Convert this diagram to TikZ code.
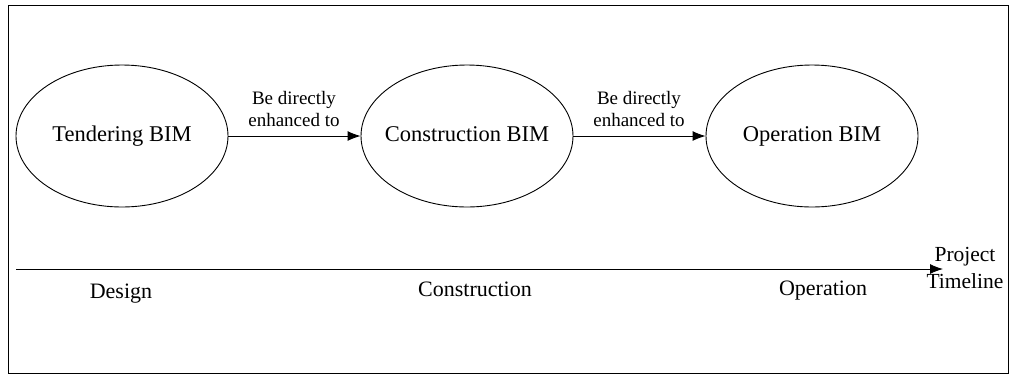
\documentclass[tikz,border=0pt]{standalone}
\usepackage{fontspec}
\setmainfont{Liberation Serif}
\usetikzlibrary{shapes.geometric,arrows.meta}

\tikzset{
	bim/.style={ellipse, draw, line width=0.9pt, minimum width=212pt,
	            minimum height=142pt, inner sep=0, inner xsep=-30pt,
	            text height=15pt, text depth=5pt,
	            font=\fontsize{22.5}{26}\selectfont},
	link/.style={line width=0.9pt, -{Latex[length=13pt,width=10pt]}},
	linklabel/.style={align=center, font=\fontsize{19}{22}\selectfont},
	phase/.style={font=\fontsize{22}{26}\selectfont}
}

\begin{document}
\begin{tikzpicture}[x=1pt, y=-1pt]
	\useasboundingbox (0,0) rectangle (1010,376);
	
	% Outer frame
	\draw [line width=0.9pt] (8,5) rectangle (1008,373);
	
	% BIM stages
	\node (tender) at (122,136) [bim] {Tendering BIM};
	\node (constr) at (467,136) [bim] {Construction BIM};
	\node (oper)   at (812,136) [bim] {Operation BIM};
	
	\draw [link] (tender) -- (constr);
	\draw [link] (constr) -- (oper);
	
	\node (enh1) at (294,109) [linklabel] {Be directly\\enhanced to};
	\node (enh2) at (639,109) [linklabel] {Be directly\\enhanced to};
	
	% Timeline
	\coordinate (tlstart) at (16,269);
	\coordinate (tlend) at (943,269);
	\draw [link] (tlstart) -- (tlend);
	\node (timeline) at (965,268) [linklabel, font=\fontsize{21.5}{27}\selectfont]
	      {Project\\Timeline};
	
	\node (design) at (121,294) [phase] {Design};
	\node (cphase) at (475,289) [phase] {Construction};
	\node (ophase) at (823,291) [phase] {Operation};
\end{tikzpicture}
\end{document}
